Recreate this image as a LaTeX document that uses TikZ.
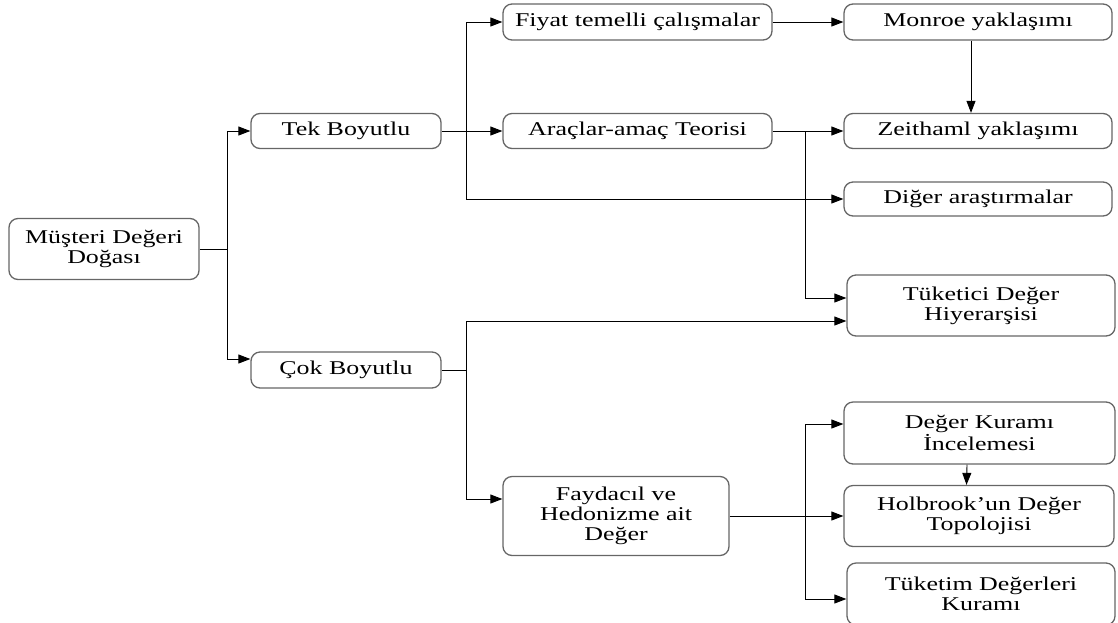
\documentclass[tikz,border=0pt]{standalone}
\usepackage{fontspec}
\setmainfont{Liberation Serif}[FakeStretch=1.33]
\usetikzlibrary{arrows.meta}

\begin{document}
\begin{tikzpicture}[x=1pt, y=-1pt,
		box/.style={shape=rectangle, draw=black!60, line width=1.3pt, rounded corners=9pt, align=center, inner sep=2pt, font=\fontsize{19.5}{20}\selectfont},
		arr/.style={-{Triangle[length=12pt, width=9pt]}, line width=0.9pt}]
			% Bounding box:
			\useasboundingbox (0, 0) rectangle (1118, 622);
			% Boxes:
			\node[box, minimum width=190pt, minimum height=61pt](musteri) at (104, 249){Müşteri Değeri\\Doğası};
			\node[box, minimum width=190pt, minimum height=35pt](tek) at (346, 131){Tek Boyutlu};
			\node[box, minimum width=190pt, minimum height=36pt](cok) at (346, 370){Çok Boyutlu};
			\node[box, minimum width=269pt, minimum height=36pt](fiyat) at (637.5, 22){Fiyat temelli çalışmalar};
			\node[box, minimum width=269pt, minimum height=35pt](araclar) at (637.5, 131){Araçlar-amaç Teorisi};
			\node[box, minimum width=268pt, minimum height=36pt](monroe) at (978, 22){Monroe yaklaşımı};
			\node[box, minimum width=268pt, minimum height=35pt](zeithaml) at (978, 131){Zeithaml yaklaşımı};
			\node[box, minimum width=268pt, minimum height=34pt](diger) at (978, 199){Diğer araştırmalar};
			\node[box, minimum width=268pt, minimum height=61pt](tuketici) at (981, 305.5){Tüketici Değer\\Hiyerarşisi};
			\node[box, minimum width=226pt, minimum height=79pt](faydacil) at (616, 516){Faydacıl ve\\Hedonizme ait\\Değer};
			\node[box, minimum width=271pt, minimum height=62pt](deger) at (979.5, 433){Değer Kuramı\\İncelemesi};
			\node[box, minimum width=270pt, minimum height=61pt](holbrook) at (979, 516){Holbrook’un Değer\\Topolojisi};
			\node[box, minimum width=268pt, minimum height=62pt](tuketim) at (981, 594){Tüketim Değerleri\\Kuramı};
			% Junctions:
			\coordinate (J1) at (227, 249);
			\coordinate (J2) at (466, 131);
			\coordinate (J3) at (805, 131);
			\coordinate (J4) at (466, 370);
			\coordinate (J5) at (805, 516);
			% Connectors:
			\draw (musteri.east) -- (J1);
			\draw[arr] (J1) |- (tek.west);
			\draw[arr] (J1) |- ([yshift=11pt]cok.west);
			\draw[arr] (tek.east) -- (araclar.west);
			\draw[arr] (J2) |- (fiyat.west);
			\draw[arr] (J2) |- (diger.west);
			\draw[arr] (fiyat.east) -- (monroe.west);
			\draw[arr] ([xshift=-7pt]monroe.south) -- ([xshift=-7pt]zeithaml.north);
			\draw[arr] (araclar.east) -- (zeithaml.west);
			\draw[arr] (J3) |- ([yshift=7.5pt]tuketici.west);
			\draw (cok.east) -- (J4);
			\draw[arr] (J4) |- ([yshift=-15.5pt]tuketici.west);
			\draw[arr] (J4) |- ([yshift=17pt]faydacil.west);
			\draw[arr] (faydacil.east) -- (holbrook.west);
			\draw[arr] (J5) |- ([yshift=9pt]deger.west);
			\draw[arr] (J5) |- ([yshift=-5pt]tuketim.west);
			\draw[arr] ([xshift=-12.5pt]deger.south) -- ([xshift=-12.5pt]holbrook.north);
		\end{tikzpicture}
\end{document}
